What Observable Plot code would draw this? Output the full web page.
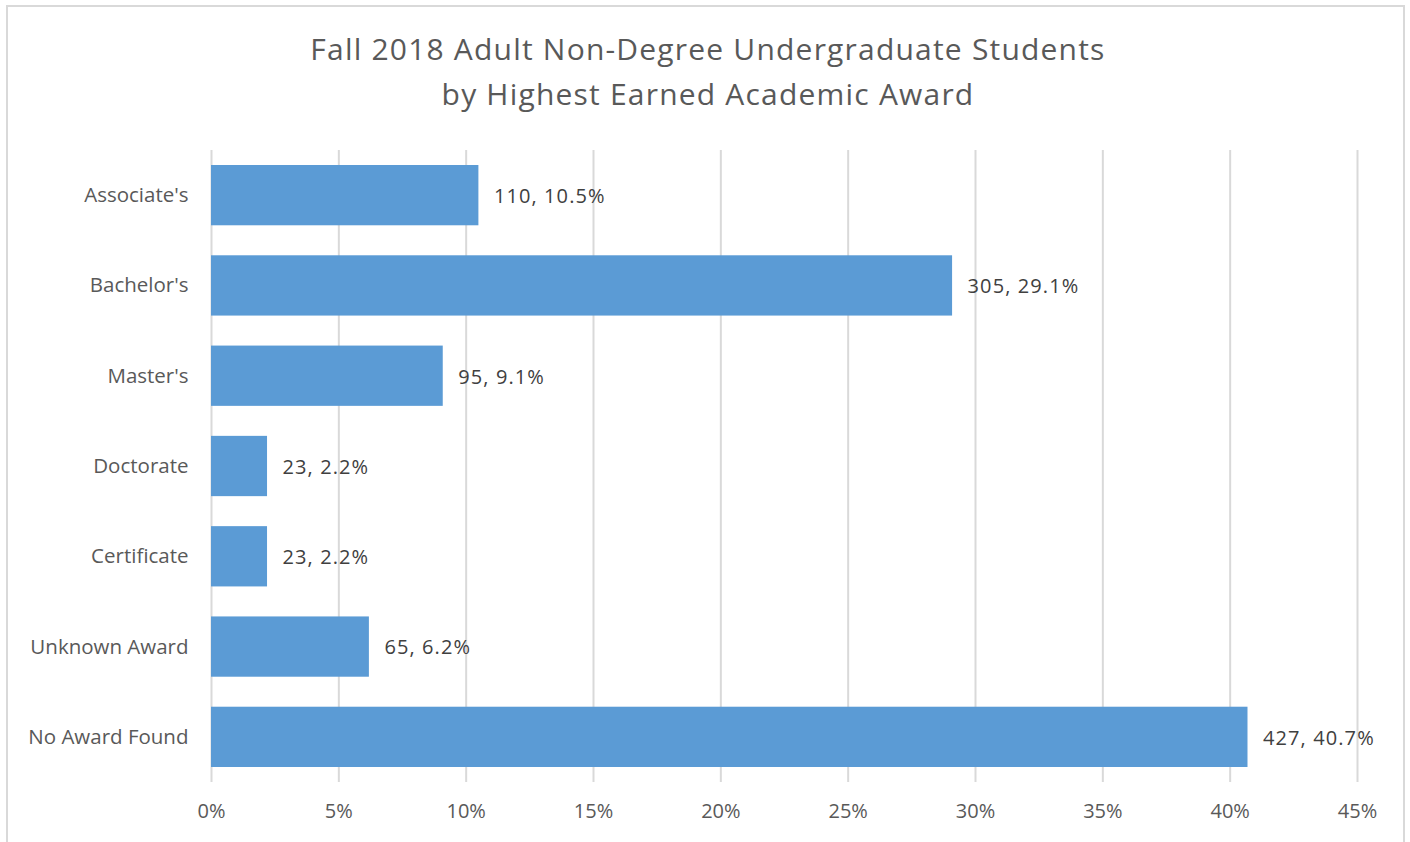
<!DOCTYPE html>
<html>
<head>
<meta charset="utf-8">
<script src="https://cdn.jsdelivr.net/npm/d3@7"></script>
<script src="https://cdn.jsdelivr.net/npm/@observablehq/plot@0.6"></script>
<style>
  html, body { margin: 0; padding: 0; background: #fff; }
  #wrap { position: relative; width: 1410px; height: 842px; overflow: hidden; background: #fff; font-family: "Open Sans", Lato, sans-serif; }
  #frame { position: absolute; left: 6px; top: 5px; width: 1399px; height: 850px; border: 2px solid #D9D9D9; box-sizing: border-box; }
  #title { position: absolute; left: 0; width: 1416px; top: 26px; text-align: center; color: #595959; font-size: 30px; letter-spacing: 1.2px; line-height: 45px; }
  #chart { position: absolute; left: 0; top: 0; }
  #chart svg g[aria-label="text"] text { letter-spacing: 1.1px; }
</style>
</head>
<body>
<div id="wrap">
  <div id="frame"></div>
  <div id="title">Fall 2018 Adult Non-Degree Undergraduate Students<br>by Highest Earned Academic Award</div>
  <div id="chart"></div>
</div>
<script>
const categories = ["Associate's", "Bachelor's", "Master's", "Doctorate", "Certificate", "Unknown Award", "No Award Found"];
const counts = [110, 305, 95, 23, 23, 65, 427];
const percents = [10.5, 29.1, 9.1, 2.2, 2.2, 6.2, 40.7];
const xTicks = [0, 5, 10, 15, 20, 25, 30, 35, 40, 45];

const data = categories.map((c, i) => ({category: c, count: counts[i], pct: percents[i]}));

const chart = Plot.plot({
  width: 1410,
  height: 842,
  marginLeft: 211,
  marginRight: 53,
  marginTop: 150,
  marginBottom: 60,
  style: {fontFamily: "'Open Sans', Lato, sans-serif", fontSize: "20px", color: "#595959", background: "transparent"},
  x: {domain: [0, 45], ticks: xTicks, tickFormat: d => d + "%", label: null},
  y: {domain: categories, padding: 0, round: false, label: null},
  marks: [
    Plot.gridX(xTicks, {stroke: "#D9D9D9", strokeOpacity: 1, strokeWidth: 2}),
    Plot.barX(data, {x: "pct", y: "category", fill: "#5B9BD5", insetTop: 15, insetBottom: 15}),
    Plot.text(data, {x: "pct", y: "category", text: d => `${d.count}, ${d.pct}%`, textAnchor: "start", dx: 15, dy: 1, fill: "#404040", fontSize: 20}),
    Plot.axisX({ticks: xTicks, tickFormat: d => d + "%", tickSize: 0, tickPadding: 21, label: null, fontSize: 20, fill: "#595959"}),
    Plot.axisY({tickSize: 0, tickPadding: 23, label: null, fontSize: 20.5, fill: "#595959"})
  ]
});
document.getElementById("chart").appendChild(chart);
</script>
</body>
</html>
